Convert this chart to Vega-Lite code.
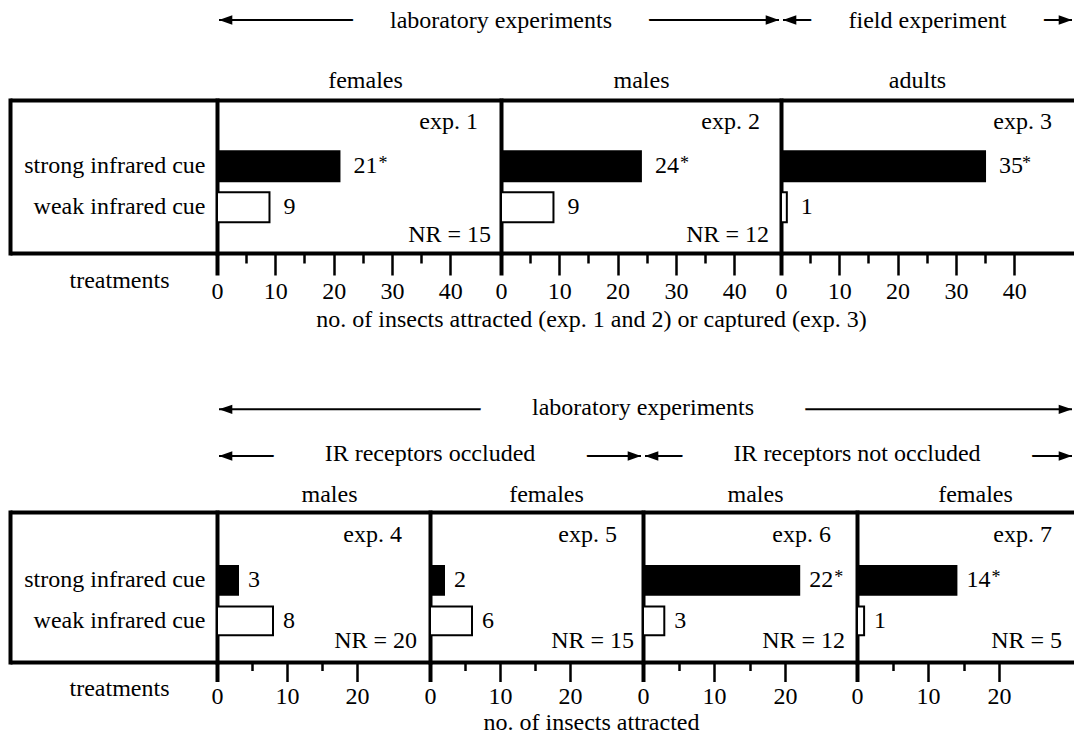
{
  "$schema": "https://vega.github.io/schema/vega-lite/v6.json",
  "padding": {"left": 10, "top": 0, "right": 0, "bottom": 0},
  "background": "white",
  "config": {
    "font": "Liberation Serif",
    "view": {"stroke": null},
    "axis": {"labelFont": "Liberation Serif", "labelFontSize": 24, "labelColor": "black", "titleFont": "Liberation Serif", "titleFontSize": 24, "titleFontWeight": "normal", "titleColor": "black", "domainColor": "black", "tickColor": "black", "grid": false, "labelFlush": false, "labelOverlap": false, "zindex": 1, "titleLimit": 1000, "labelLimit": 400}
  },
  "datasets": {
    "counts": [
      {"exp": "exp. 1", "treatment": "strong infrared cue", "n": 21, "sig": "*"},
      {"exp": "exp. 1", "treatment": "weak infrared cue", "n": 9, "sig": ""},
      {"exp": "exp. 2", "treatment": "strong infrared cue", "n": 24, "sig": "*"},
      {"exp": "exp. 2", "treatment": "weak infrared cue", "n": 9, "sig": ""},
      {"exp": "exp. 3", "treatment": "strong infrared cue", "n": 35, "sig": "*"},
      {"exp": "exp. 3", "treatment": "weak infrared cue", "n": 1, "sig": ""},
      {"exp": "exp. 4", "treatment": "strong infrared cue", "n": 3, "sig": ""},
      {"exp": "exp. 4", "treatment": "weak infrared cue", "n": 8, "sig": ""},
      {"exp": "exp. 5", "treatment": "strong infrared cue", "n": 2, "sig": ""},
      {"exp": "exp. 5", "treatment": "weak infrared cue", "n": 6, "sig": ""},
      {"exp": "exp. 6", "treatment": "strong infrared cue", "n": 22, "sig": "*"},
      {"exp": "exp. 6", "treatment": "weak infrared cue", "n": 3, "sig": ""},
      {"exp": "exp. 7", "treatment": "strong infrared cue", "n": 14, "sig": "*"},
      {"exp": "exp. 7", "treatment": "weak infrared cue", "n": 1, "sig": ""}
    ],
    "panels": [
      {"exp": "exp. 1", "group": "females", "nr": "NR = 15"},
      {"exp": "exp. 2", "group": "males", "nr": "NR = 12"},
      {"exp": "exp. 3", "group": "adults", "nr": ""},
      {"exp": "exp. 4", "group": "males", "nr": "NR = 20"},
      {"exp": "exp. 5", "group": "females", "nr": "NR = 15"},
      {"exp": "exp. 6", "group": "males", "nr": "NR = 12"},
      {"exp": "exp. 7", "group": "females", "nr": "NR = 5"}
    ],
    "spansTop": [
      {"label": "laboratory experiments", "from": 0, "to": 2, "mid": 1},
      {"label": "field experiment", "from": 2, "to": 3, "mid": 2.5}
    ],
    "spansB1": [
      {"label": "laboratory experiments", "from": 0, "to": 4, "mid": 2}
    ],
    "spansB2": [
      {"label": "IR receptors occluded", "from": 0, "to": 2, "mid": 1},
      {"label": "IR receptors not occluded", "from": 2, "to": 4, "mid": 3}
    ]
  },
  "spacing": 0,
  "bounds": "flush",
  "vconcat": [
    {
      "width": 1064, "height": 100,
      "data": {"name": "spansTop"},
      "encoding": {"y": {"field": "label", "type": "nominal", "scale": {"type": "point", "range": [20, 20]}, "axis": null}},
      "layer": [
        {"mark": {"type": "rule", "strokeWidth": 2, "color": "black", "xOffset": 2, "x2Offset": -2},
         "encoding": {"x": {"field": "from", "type": "quantitative", "scale": {"domain": [0, 1, 2, 3], "range": [207, 491, 771, 1064], "nice": false, "zero": false}, "axis": null}, "x2": {"field": "to"}}},
        {"mark": {"type": "text", "fontSize": 24, "baseline": "middle", "dy": 1, "fill": "white", "stroke": "white", "strokeWidth": 76, "strokeJoin": "round", "clip": true},
         "encoding": {"x": {"field": "mid", "type": "quantitative", "scale": {"domain": [0, 1, 2, 3], "range": [207, 491, 771, 1064], "nice": false, "zero": false}, "axis": null}, "text": {"field": "label"}}},
        {"mark": {"type": "point", "shape": "M0.3,0L2.3,-0.7L2.3,0.7Z", "size": 177, "filled": true, "color": "black", "opacity": 1},
         "encoding": {"x": {"field": "from", "type": "quantitative", "scale": {"domain": [0, 1, 2, 3], "range": [207, 491, 771, 1064], "nice": false, "zero": false}, "axis": null}}},
        {"mark": {"type": "point", "shape": "M-0.3,0L-2.3,-0.7L-2.3,0.7Z", "size": 177, "filled": true, "color": "black", "opacity": 1},
         "encoding": {"x": {"field": "to", "type": "quantitative", "scale": {"domain": [0, 1, 2, 3], "range": [207, 491, 771, 1064], "nice": false, "zero": false}, "axis": null}}},
        {"mark": {"type": "text", "fontSize": 24, "baseline": "middle", "dy": 1, "fill": "black"},
         "encoding": {"x": {"field": "mid", "type": "quantitative", "scale": {"domain": [0, 1, 2, 3], "range": [207, 491, 771, 1064], "nice": false, "zero": false}, "axis": null}, "text": {"field": "label"}}}
      ]
    },
    {
      "width": 1064, "height": 153,
      "layer": [
        {
          "data": {"name": "counts"}, "transform": [{"filter": "datum.exp === 'exp. 1'"}],
          "layer": [
            {"mark": {"type": "point", "opacity": 0},
             "encoding": {
               "y": {"field": "treatment", "type": "nominal", "scale": {"type": "band", "domain": ["strong infrared cue", "weak infrared cue"], "paddingInner": 0.27, "paddingOuter": 1.02, "align": 0.624}, "axis": {"orient": "left", "offset": 0, "domain": true, "domainWidth": 4, "domainCap": "square", "ticks": false, "labels": false, "title": null}},
               "x": {"field": "n", "type": "quantitative", "scale": {"domain": [0, 50], "range": [0, 207], "nice": false}, "axis": {"orient": "top", "domain": true, "domainWidth": 4, "ticks": false, "labels": false, "title": null}}
             }},
            {"mark": {"type": "point", "opacity": 0},
             "encoding": {
               "y": {"field": "treatment", "type": "nominal", "scale": {"type": "band", "domain": ["strong infrared cue", "weak infrared cue"], "paddingInner": 0.27, "paddingOuter": 1.02, "align": 0.624}, "axis": {"orient": "left", "offset": -207, "domain": true, "domainWidth": 4, "domainCap": "square", "ticks": false, "labelPadding": 12, "labelBaseline": "middle", "labelLimit": 400, "title": null}},
               "x": {"field": "n", "type": "quantitative", "scale": {"domain": [0, 50], "range": [0, 207], "nice": false}, "axis": {"orient": "bottom", "domain": true, "domainWidth": 4, "ticks": false, "labels": false, "title": "treatments", "titleX": 109, "titleY": 34, "titleAlign": "center", "titleBaseline": "alphabetic"}}
             }}
          ],
          "resolve": {"axis": {"x": "independent", "y": "independent"}}
        },
        {
          "data": {"name": "counts"}, "transform": [{"filter": "datum.exp === 'exp. 1'"}],
          "layer": [
            {"mark": {"type": "bar", "stroke": "black", "strokeWidth": 2},
             "encoding": {
               "y": {"field": "treatment", "type": "nominal", "scale": {"type": "band", "domain": ["strong infrared cue", "weak infrared cue"], "paddingInner": 0.27, "paddingOuter": 1.02, "align": 0.624}, "axis": null},
               "x": {"field": "n", "type": "quantitative", "scale": {"domain": [0, 48.7], "range": [207, 491], "nice": false}, "axis": {"orient": "bottom", "values": [0, 5, 10, 15, 20, 25, 30, 35, 40], "labelExpr": "datum.value % 10 === 0 ? datum.label : ''", "tickSize": {"condition": {"test": "datum.value % 10 === 0", "value": 22}, "value": 10}, "tickWidth": {"condition": {"test": "datum.value === 0", "value": 4}, "value": 2.5}, "labelPadding": 23, "labelBaseline": "alphabetic", "domainWidth": 4, "title": null}},
               "fill": {"field": "treatment", "type": "nominal", "scale": {"domain": ["strong infrared cue", "weak infrared cue"], "range": ["black", "white"]}, "legend": null}
             }},
            {"mark": {"type": "text", "align": "left", "baseline": "middle", "dx": 14, "fontSize": 24, "fill": "black"},
             "encoding": {
               "y": {"field": "treatment", "type": "nominal", "axis": null},
               "x": {"field": "n", "type": "quantitative", "scale": {"domain": [0, 48.7], "range": [207, 491], "nice": false}, "axis": {"orient": "top", "domain": true, "domainWidth": 4, "ticks": false, "labels": false, "title": "females", "titleX": 355, "titleY": -12.5, "titleAlign": "center", "titleBaseline": "alphabetic"}},
               "text": {"field": "n", "type": "quantitative", "format": "d"}
             }},
            {"transform": [{"filter": "datum.sig !== ''"}],
             "mark": {"type": "text", "align": "left", "baseline": "middle", "dx": 39, "dy": -2, "fontSize": 18, "fill": "black"},
             "encoding": {
               "y": {"field": "treatment", "type": "nominal", "axis": null},
               "x": {"field": "n", "type": "quantitative", "axis": null},
               "text": {"field": "sig"}
             }},
            {"data": {"name": "panels"}, "transform": [{"filter": "datum.exp === 'exp. 1'"}],
             "mark": {"type": "text", "align": "right", "baseline": "alphabetic", "dx": -23, "dy": -37.5, "fontSize": 24, "fill": "black"},
             "encoding": {"x": {"datum": 48.7, "type": "quantitative", "axis": null}, "y": {"datum": "strong infrared cue", "type": "nominal", "axis": null}, "text": {"field": "exp"}}},
            {"data": {"name": "panels"}, "transform": [{"filter": "datum.exp === 'exp. 1'"}],
             "mark": {"type": "text", "align": "right", "baseline": "alphabetic", "dx": -10, "dy": 34.4, "fontSize": 24, "fill": "black"},
             "encoding": {"x": {"datum": 48.7, "type": "quantitative", "axis": null}, "y": {"datum": "weak infrared cue", "type": "nominal", "axis": null}, "text": {"field": "nr"}}}
          ],
          "resolve": {"axis": {"x": "independent", "y": "independent"}}
        },
        {
          "data": {"name": "counts"}, "transform": [{"filter": "datum.exp === 'exp. 2'"}],
          "layer": [
            {"mark": {"type": "bar", "stroke": "black", "strokeWidth": 2},
             "encoding": {
               "y": {"field": "treatment", "type": "nominal", "scale": {"type": "band", "domain": ["strong infrared cue", "weak infrared cue"], "paddingInner": 0.27, "paddingOuter": 1.02, "align": 0.624}, "axis": {"orient": "left", "offset": -491, "domain": true, "domainWidth": 4, "domainCap": "square", "ticks": false, "labels": false, "title": null}},
               "x": {"field": "n", "type": "quantitative", "scale": {"domain": [0, 48.03], "range": [491, 771], "nice": false}, "axis": {"orient": "bottom", "values": [0, 5, 10, 15, 20, 25, 30, 35, 40], "labelExpr": "datum.value % 10 === 0 ? datum.label : ''", "tickSize": {"condition": {"test": "datum.value % 10 === 0", "value": 22}, "value": 10}, "tickWidth": {"condition": {"test": "datum.value === 0", "value": 4}, "value": 2.5}, "labelPadding": 23, "labelBaseline": "alphabetic", "domainWidth": 4, "title": "no. of insects attracted (exp. 1 and 2) or captured (exp. 3)", "titleX": 581, "titleY": 73, "titleAlign": "center", "titleBaseline": "alphabetic"}},
               "fill": {"field": "treatment", "type": "nominal", "scale": {"domain": ["strong infrared cue", "weak infrared cue"], "range": ["black", "white"]}, "legend": null}
             }},
            {"mark": {"type": "text", "align": "left", "baseline": "middle", "dx": 14, "fontSize": 24, "fill": "black"},
             "encoding": {
               "y": {"field": "treatment", "type": "nominal", "axis": null},
               "x": {"field": "n", "type": "quantitative", "scale": {"domain": [0, 48.03], "range": [491, 771], "nice": false}, "axis": {"orient": "top", "domain": true, "domainWidth": 4, "ticks": false, "labels": false, "title": "males", "titleX": 631, "titleY": -12.5, "titleAlign": "center", "titleBaseline": "alphabetic"}},
               "text": {"field": "n", "type": "quantitative", "format": "d"}
             }},
            {"transform": [{"filter": "datum.sig !== ''"}],
             "mark": {"type": "text", "align": "left", "baseline": "middle", "dx": 39, "dy": -2, "fontSize": 18, "fill": "black"},
             "encoding": {
               "y": {"field": "treatment", "type": "nominal", "axis": null},
               "x": {"field": "n", "type": "quantitative", "axis": null},
               "text": {"field": "sig"}
             }},
            {"data": {"name": "panels"}, "transform": [{"filter": "datum.exp === 'exp. 2'"}],
             "mark": {"type": "text", "align": "right", "baseline": "alphabetic", "dx": -21, "dy": -37.5, "fontSize": 24, "fill": "black"},
             "encoding": {"x": {"datum": 48.03, "type": "quantitative", "axis": null}, "y": {"datum": "strong infrared cue", "type": "nominal", "axis": null}, "text": {"field": "exp"}}},
            {"data": {"name": "panels"}, "transform": [{"filter": "datum.exp === 'exp. 2'"}],
             "mark": {"type": "text", "align": "right", "baseline": "alphabetic", "dx": -12, "dy": 34.4, "fontSize": 24, "fill": "black"},
             "encoding": {"x": {"datum": 48.03, "type": "quantitative", "axis": null}, "y": {"datum": "weak infrared cue", "type": "nominal", "axis": null}, "text": {"field": "nr"}}}
          ],
          "resolve": {"axis": {"x": "independent", "y": "independent"}}
        },
        {
          "data": {"name": "counts"}, "transform": [{"filter": "datum.exp === 'exp. 3'"}],
          "layer": [
            {"mark": {"type": "bar", "stroke": "black", "strokeWidth": 2},
             "encoding": {
               "y": {"field": "treatment", "type": "nominal", "scale": {"type": "band", "domain": ["strong infrared cue", "weak infrared cue"], "paddingInner": 0.27, "paddingOuter": 1.02, "align": 0.624}, "axis": {"orient": "left", "offset": -771, "domain": true, "domainWidth": 4, "domainCap": "square", "ticks": false, "labels": false, "title": null}},
               "x": {"field": "n", "type": "quantitative", "scale": {"domain": [0, 50.26], "range": [771, 1064], "nice": false}, "axis": {"orient": "bottom", "values": [0, 5, 10, 15, 20, 25, 30, 35, 40], "labelExpr": "datum.value % 10 === 0 ? datum.label : ''", "tickSize": {"condition": {"test": "datum.value % 10 === 0", "value": 22}, "value": 10}, "tickWidth": {"condition": {"test": "datum.value === 0", "value": 4}, "value": 2.5}, "labelPadding": 23, "labelBaseline": "alphabetic", "domainWidth": 4, "title": null}},
               "fill": {"field": "treatment", "type": "nominal", "scale": {"domain": ["strong infrared cue", "weak infrared cue"], "range": ["black", "white"]}, "legend": null}
             }},
            {"mark": {"type": "text", "align": "left", "baseline": "middle", "dx": 14, "fontSize": 24, "fill": "black"},
             "encoding": {
               "y": {"field": "treatment", "type": "nominal", "axis": null},
               "x": {"field": "n", "type": "quantitative", "scale": {"domain": [0, 50.26], "range": [771, 1064], "nice": false}, "axis": {"orient": "top", "domain": true, "domainWidth": 4, "ticks": false, "labels": false, "title": "adults", "titleX": 907, "titleY": -12.5, "titleAlign": "center", "titleBaseline": "alphabetic"}},
               "text": {"field": "n", "type": "quantitative", "format": "d"}
             }},
            {"transform": [{"filter": "datum.sig !== ''"}],
             "mark": {"type": "text", "align": "left", "baseline": "middle", "dx": 37, "dy": -2, "fontSize": 18, "fill": "black"},
             "encoding": {
               "y": {"field": "treatment", "type": "nominal", "axis": null},
               "x": {"field": "n", "type": "quantitative", "axis": null},
               "text": {"field": "sig"}
             }},
            {"data": {"name": "panels"}, "transform": [{"filter": "datum.exp === 'exp. 3'"}],
             "mark": {"type": "text", "align": "right", "baseline": "alphabetic", "dx": -22, "dy": -37.5, "fontSize": 24, "fill": "black"},
             "encoding": {"x": {"datum": 50.26, "type": "quantitative", "axis": null}, "y": {"datum": "strong infrared cue", "type": "nominal", "axis": null}, "text": {"field": "exp"}}}
          ],
          "resolve": {"axis": {"x": "independent", "y": "independent"}}
        }
      ],
      "resolve": {"scale": {"x": "independent"}, "axis": {"x": "independent", "y": "independent"}}
    },
    {
      "width": 1064, "height": 180,
      "data": {"name": "spansB1"},
      "encoding": {"y": {"field": "label", "type": "nominal", "scale": {"type": "point", "range": [156.3, 156.3]}, "axis": null}},
      "layer": [
        {"mark": {"type": "rule", "strokeWidth": 2, "color": "black", "xOffset": 2, "x2Offset": -2},
         "encoding": {"x": {"field": "from", "type": "quantitative", "scale": {"domain": [0, 1, 2, 3, 4], "range": [207, 420, 633, 847, 1064], "nice": false, "zero": false}, "axis": null}, "x2": {"field": "to"}}},
        {"mark": {"type": "text", "fontSize": 24, "baseline": "middle", "dy": -1.5, "fill": "white", "stroke": "white", "strokeWidth": 104, "strokeJoin": "round", "clip": true},
         "encoding": {"x": {"field": "mid", "type": "quantitative", "scale": {"domain": [0, 1, 2, 3, 4], "range": [207, 420, 633, 847, 1064], "nice": false, "zero": false}, "axis": null}, "text": {"field": "label"}}},
        {"mark": {"type": "point", "shape": "M0.3,0L2.3,-0.7L2.3,0.7Z", "size": 177, "filled": true, "color": "black", "opacity": 1},
         "encoding": {"x": {"field": "from", "type": "quantitative", "scale": {"domain": [0, 1, 2, 3, 4], "range": [207, 420, 633, 847, 1064], "nice": false, "zero": false}, "axis": null}}},
        {"mark": {"type": "point", "shape": "M-0.3,0L-2.3,-0.7L-2.3,0.7Z", "size": 177, "filled": true, "color": "black", "opacity": 1},
         "encoding": {"x": {"field": "to", "type": "quantitative", "scale": {"domain": [0, 1, 2, 3, 4], "range": [207, 420, 633, 847, 1064], "nice": false, "zero": false}, "axis": null}}},
        {"mark": {"type": "text", "fontSize": 24, "baseline": "middle", "dy": -1.5, "fill": "black"},
         "encoding": {"x": {"field": "mid", "type": "quantitative", "scale": {"domain": [0, 1, 2, 3, 4], "range": [207, 420, 633, 847, 1064], "nice": false, "zero": false}, "axis": null}, "text": {"field": "label"}}}
      ]
    },
    {
      "width": 1064, "height": 79,
      "data": {"name": "spansB2"},
      "encoding": {"y": {"field": "label", "type": "nominal", "scale": {"type": "point", "range": [23, 23]}, "axis": null}},
      "layer": [
        {"mark": {"type": "rule", "strokeWidth": 2, "color": "black", "xOffset": 2, "x2Offset": -2},
         "encoding": {"x": {"field": "from", "type": "quantitative", "scale": {"domain": [0, 1, 2, 3, 4], "range": [207, 420, 633, 847, 1064], "nice": false, "zero": false}, "axis": null}, "x2": {"field": "to"}}},
        {"mark": {"type": "text", "fontSize": 24, "baseline": "middle", "dy": -2.5, "fill": "white", "stroke": "white", "strokeWidth": 104, "strokeJoin": "round", "clip": true},
         "encoding": {"x": {"field": "mid", "type": "quantitative", "scale": {"domain": [0, 1, 2, 3, 4], "range": [207, 420, 633, 847, 1064], "nice": false, "zero": false}, "axis": null}, "text": {"field": "label"}}},
        {"mark": {"type": "point", "shape": "M0.3,0L2.3,-0.7L2.3,0.7Z", "size": 177, "filled": true, "color": "black", "opacity": 1},
         "encoding": {"x": {"field": "from", "type": "quantitative", "scale": {"domain": [0, 1, 2, 3, 4], "range": [207, 420, 633, 847, 1064], "nice": false, "zero": false}, "axis": null}}},
        {"mark": {"type": "point", "shape": "M-0.3,0L-2.3,-0.7L-2.3,0.7Z", "size": 177, "filled": true, "color": "black", "opacity": 1},
         "encoding": {"x": {"field": "to", "type": "quantitative", "scale": {"domain": [0, 1, 2, 3, 4], "range": [207, 420, 633, 847, 1064], "nice": false, "zero": false}, "axis": null}}},
        {"mark": {"type": "text", "fontSize": 24, "baseline": "middle", "dy": -2.5, "fill": "black"},
         "encoding": {"x": {"field": "mid", "type": "quantitative", "scale": {"domain": [0, 1, 2, 3, 4], "range": [207, 420, 633, 847, 1064], "nice": false, "zero": false}, "axis": null}, "text": {"field": "label"}}}
      ]
    },
    {
      "width": 1064, "height": 150,
      "layer": [
        {
          "data": {"name": "counts"}, "transform": [{"filter": "datum.exp === 'exp. 4'"}],
          "layer": [
            {"mark": {"type": "point", "opacity": 0},
             "encoding": {
               "y": {"field": "treatment", "type": "nominal", "scale": {"type": "band", "domain": ["strong infrared cue", "weak infrared cue"], "paddingInner": 0.292, "paddingOuter": 1.069, "align": 0.668}, "axis": {"orient": "left", "offset": 0, "domain": true, "domainWidth": 4, "domainCap": "square", "ticks": false, "labels": false, "title": null}},
               "x": {"field": "n", "type": "quantitative", "scale": {"domain": [0, 50], "range": [0, 207], "nice": false}, "axis": {"orient": "top", "domain": true, "domainWidth": 4, "ticks": false, "labels": false, "title": null}}
             }},
            {"mark": {"type": "point", "opacity": 0},
             "encoding": {
               "y": {"field": "treatment", "type": "nominal", "scale": {"type": "band", "domain": ["strong infrared cue", "weak infrared cue"], "paddingInner": 0.292, "paddingOuter": 1.069, "align": 0.668}, "axis": {"orient": "left", "offset": -207, "domain": true, "domainWidth": 4, "domainCap": "square", "ticks": false, "labelPadding": 12, "labelBaseline": "middle", "labelLimit": 400, "title": null}},
               "x": {"field": "n", "type": "quantitative", "scale": {"domain": [0, 50], "range": [0, 207], "nice": false}, "axis": {"orient": "bottom", "domain": true, "domainWidth": 4, "ticks": false, "labels": false, "title": "treatments", "titleX": 109, "titleY": 33, "titleAlign": "center", "titleBaseline": "alphabetic"}}
             }}
          ],
          "resolve": {"axis": {"x": "independent", "y": "independent"}}
        },
        {
          "data": {"name": "counts"}, "transform": [{"filter": "datum.exp === 'exp. 4'"}],
          "layer": [
            {"mark": {"type": "bar", "stroke": "black", "strokeWidth": 2},
             "encoding": {
               "y": {"field": "treatment", "type": "nominal", "scale": {"type": "band", "domain": ["strong infrared cue", "weak infrared cue"], "paddingInner": 0.292, "paddingOuter": 1.069, "align": 0.668}, "axis": null},
               "x": {"field": "n", "type": "quantitative", "scale": {"domain": [0, 30.43], "range": [207, 420], "nice": false}, "axis": {"orient": "bottom", "values": [0, 5, 10, 15, 20], "labelExpr": "datum.value % 10 === 0 ? datum.label : ''", "tickSize": {"condition": {"test": "datum.value % 10 === 0", "value": 19.5}, "value": 8.5}, "tickWidth": {"condition": {"test": "datum.value === 0", "value": 4}, "value": 2.5}, "labelPadding": 22, "labelBaseline": "alphabetic", "domainWidth": 4, "title": null}},
               "fill": {"field": "treatment", "type": "nominal", "scale": {"domain": ["strong infrared cue", "weak infrared cue"], "range": ["black", "white"]}, "legend": null}
             }},
            {"mark": {"type": "text", "align": "left", "baseline": "middle", "dx": 10, "fontSize": 24, "fill": "black"},
             "encoding": {
               "y": {"field": "treatment", "type": "nominal", "axis": null},
               "x": {"field": "n", "type": "quantitative", "scale": {"domain": [0, 30.43], "range": [207, 420], "nice": false}, "axis": {"orient": "top", "domain": true, "domainWidth": 4, "ticks": false, "labels": false, "title": "males", "titleX": 319, "titleY": -10.5, "titleAlign": "center", "titleBaseline": "alphabetic"}},
               "text": {"field": "n", "type": "quantitative", "format": "d"}
             }},
            {"data": {"name": "panels"}, "transform": [{"filter": "datum.exp === 'exp. 4'"}],
             "mark": {"type": "text", "align": "right", "baseline": "alphabetic", "dx": -28, "dy": -38.7, "fontSize": 24, "fill": "black"},
             "encoding": {"x": {"datum": 30.43, "type": "quantitative", "axis": null}, "y": {"datum": "strong infrared cue", "type": "nominal", "axis": null}, "text": {"field": "exp"}}},
            {"data": {"name": "panels"}, "transform": [{"filter": "datum.exp === 'exp. 4'"}],
             "mark": {"type": "text", "align": "right", "baseline": "alphabetic", "dx": -13, "dy": 26.7, "fontSize": 24, "fill": "black"},
             "encoding": {"x": {"datum": 30.43, "type": "quantitative", "axis": null}, "y": {"datum": "weak infrared cue", "type": "nominal", "axis": null}, "text": {"field": "nr"}}}
          ],
          "resolve": {"axis": {"x": "independent", "y": "independent"}}
        },
        {
          "data": {"name": "counts"}, "transform": [{"filter": "datum.exp === 'exp. 5'"}],
          "layer": [
            {"mark": {"type": "bar", "stroke": "black", "strokeWidth": 2},
             "encoding": {
               "y": {"field": "treatment", "type": "nominal", "scale": {"type": "band", "domain": ["strong infrared cue", "weak infrared cue"], "paddingInner": 0.292, "paddingOuter": 1.069, "align": 0.668}, "axis": {"orient": "left", "offset": -420, "domain": true, "domainWidth": 4, "domainCap": "square", "ticks": false, "labels": false, "title": null}},
               "x": {"field": "n", "type": "quantitative", "scale": {"domain": [0, 30.43], "range": [420, 633], "nice": false}, "axis": {"orient": "bottom", "values": [0, 5, 10, 15, 20], "labelExpr": "datum.value % 10 === 0 ? datum.label : ''", "tickSize": {"condition": {"test": "datum.value % 10 === 0", "value": 19.5}, "value": 8.5}, "tickWidth": {"condition": {"test": "datum.value === 0", "value": 4}, "value": 2.5}, "labelPadding": 22, "labelBaseline": "alphabetic", "domainWidth": 4, "title": "no. of insects attracted", "titleX": 581, "titleY": 67, "titleAlign": "center", "titleBaseline": "alphabetic"}},
               "fill": {"field": "treatment", "type": "nominal", "scale": {"domain": ["strong infrared cue", "weak infrared cue"], "range": ["black", "white"]}, "legend": null}
             }},
            {"mark": {"type": "text", "align": "left", "baseline": "middle", "dx": 10, "fontSize": 24, "fill": "black"},
             "encoding": {
               "y": {"field": "treatment", "type": "nominal", "axis": null},
               "x": {"field": "n", "type": "quantitative", "scale": {"domain": [0, 30.43], "range": [420, 633], "nice": false}, "axis": {"orient": "top", "domain": true, "domainWidth": 4, "ticks": false, "labels": false, "title": "females", "titleX": 536, "titleY": -10.5, "titleAlign": "center", "titleBaseline": "alphabetic"}},
               "text": {"field": "n", "type": "quantitative", "format": "d"}
             }},
            {"data": {"name": "panels"}, "transform": [{"filter": "datum.exp === 'exp. 5'"}],
             "mark": {"type": "text", "align": "right", "baseline": "alphabetic", "dx": -26, "dy": -38.7, "fontSize": 24, "fill": "black"},
             "encoding": {"x": {"datum": 30.43, "type": "quantitative", "axis": null}, "y": {"datum": "strong infrared cue", "type": "nominal", "axis": null}, "text": {"field": "exp"}}},
            {"data": {"name": "panels"}, "transform": [{"filter": "datum.exp === 'exp. 5'"}],
             "mark": {"type": "text", "align": "right", "baseline": "alphabetic", "dx": -9, "dy": 26.7, "fontSize": 24, "fill": "black"},
             "encoding": {"x": {"datum": 30.43, "type": "quantitative", "axis": null}, "y": {"datum": "weak infrared cue", "type": "nominal", "axis": null}, "text": {"field": "nr"}}}
          ],
          "resolve": {"axis": {"x": "independent", "y": "independent"}}
        },
        {
          "data": {"name": "counts"}, "transform": [{"filter": "datum.exp === 'exp. 6'"}],
          "layer": [
            {"mark": {"type": "bar", "stroke": "black", "strokeWidth": 2},
             "encoding": {
               "y": {"field": "treatment", "type": "nominal", "scale": {"type": "band", "domain": ["strong infrared cue", "weak infrared cue"], "paddingInner": 0.292, "paddingOuter": 1.069, "align": 0.668}, "axis": {"orient": "left", "offset": -633, "domain": true, "domainWidth": 4, "domainCap": "square", "ticks": false, "labels": false, "title": null}},
               "x": {"field": "n", "type": "quantitative", "scale": {"domain": [0, 30.14], "range": [633, 847], "nice": false}, "axis": {"orient": "bottom", "values": [0, 5, 10, 15, 20], "labelExpr": "datum.value % 10 === 0 ? datum.label : ''", "tickSize": {"condition": {"test": "datum.value % 10 === 0", "value": 19.5}, "value": 8.5}, "tickWidth": {"condition": {"test": "datum.value === 0", "value": 4}, "value": 2.5}, "labelPadding": 22, "labelBaseline": "alphabetic", "domainWidth": 4, "title": null}},
               "fill": {"field": "treatment", "type": "nominal", "scale": {"domain": ["strong infrared cue", "weak infrared cue"], "range": ["black", "white"]}, "legend": null}
             }},
            {"mark": {"type": "text", "align": "left", "baseline": "middle", "dx": 10, "fontSize": 24, "fill": "black"},
             "encoding": {
               "y": {"field": "treatment", "type": "nominal", "axis": null},
               "x": {"field": "n", "type": "quantitative", "scale": {"domain": [0, 30.14], "range": [633, 847], "nice": false}, "axis": {"orient": "top", "domain": true, "domainWidth": 4, "ticks": false, "labels": false, "title": "males", "titleX": 745, "titleY": -10.5, "titleAlign": "center", "titleBaseline": "alphabetic"}},
               "text": {"field": "n", "type": "quantitative", "format": "d"}
             }},
            {"transform": [{"filter": "datum.sig !== ''"}],
             "mark": {"type": "text", "align": "left", "baseline": "middle", "dx": 35, "dy": -2, "fontSize": 18, "fill": "black"},
             "encoding": {
               "y": {"field": "treatment", "type": "nominal", "axis": null},
               "x": {"field": "n", "type": "quantitative", "axis": null},
               "text": {"field": "sig"}
             }},
            {"data": {"name": "panels"}, "transform": [{"filter": "datum.exp === 'exp. 6'"}],
             "mark": {"type": "text", "align": "right", "baseline": "alphabetic", "dx": -26, "dy": -38.7, "fontSize": 24, "fill": "black"},
             "encoding": {"x": {"datum": 30.14, "type": "quantitative", "axis": null}, "y": {"datum": "strong infrared cue", "type": "nominal", "axis": null}, "text": {"field": "exp"}}},
            {"data": {"name": "panels"}, "transform": [{"filter": "datum.exp === 'exp. 6'"}],
             "mark": {"type": "text", "align": "right", "baseline": "alphabetic", "dx": -12, "dy": 26.7, "fontSize": 24, "fill": "black"},
             "encoding": {"x": {"datum": 30.14, "type": "quantitative", "axis": null}, "y": {"datum": "weak infrared cue", "type": "nominal", "axis": null}, "text": {"field": "nr"}}}
          ],
          "resolve": {"axis": {"x": "independent", "y": "independent"}}
        },
        {
          "data": {"name": "counts"}, "transform": [{"filter": "datum.exp === 'exp. 7'"}],
          "layer": [
            {"mark": {"type": "bar", "stroke": "black", "strokeWidth": 2},
             "encoding": {
               "y": {"field": "treatment", "type": "nominal", "scale": {"type": "band", "domain": ["strong infrared cue", "weak infrared cue"], "paddingInner": 0.292, "paddingOuter": 1.069, "align": 0.668}, "axis": {"orient": "left", "offset": -847, "domain": true, "domainWidth": 4, "domainCap": "square", "ticks": false, "labels": false, "title": null}},
               "x": {"field": "n", "type": "quantitative", "scale": {"domain": [0, 30.56], "range": [847, 1064], "nice": false}, "axis": {"orient": "bottom", "values": [0, 5, 10, 15, 20], "labelExpr": "datum.value % 10 === 0 ? datum.label : ''", "tickSize": {"condition": {"test": "datum.value % 10 === 0", "value": 19.5}, "value": 8.5}, "tickWidth": {"condition": {"test": "datum.value === 0", "value": 4}, "value": 2.5}, "labelPadding": 22, "labelBaseline": "alphabetic", "domainWidth": 4, "title": null}},
               "fill": {"field": "treatment", "type": "nominal", "scale": {"domain": ["strong infrared cue", "weak infrared cue"], "range": ["black", "white"]}, "legend": null}
             }},
            {"mark": {"type": "text", "align": "left", "baseline": "middle", "dx": 10, "fontSize": 24, "fill": "black"},
             "encoding": {
               "y": {"field": "treatment", "type": "nominal", "axis": null},
               "x": {"field": "n", "type": "quantitative", "scale": {"domain": [0, 30.56], "range": [847, 1064], "nice": false}, "axis": {"orient": "top", "domain": true, "domainWidth": 4, "ticks": false, "labels": false, "title": "females", "titleX": 965, "titleY": -10.5, "titleAlign": "center", "titleBaseline": "alphabetic"}},
               "text": {"field": "n", "type": "quantitative", "format": "d"}
             }},
            {"transform": [{"filter": "datum.sig !== ''"}],
             "mark": {"type": "text", "align": "left", "baseline": "middle", "dx": 35, "dy": -2, "fontSize": 18, "fill": "black"},
             "encoding": {
               "y": {"field": "treatment", "type": "nominal", "axis": null},
               "x": {"field": "n", "type": "quantitative", "axis": null},
               "text": {"field": "sig"}
             }},
            {"data": {"name": "panels"}, "transform": [{"filter": "datum.exp === 'exp. 7'"}],
             "mark": {"type": "text", "align": "right", "baseline": "alphabetic", "dx": -22, "dy": -38.7, "fontSize": 24, "fill": "black"},
             "encoding": {"x": {"datum": 30.56, "type": "quantitative", "axis": null}, "y": {"datum": "strong infrared cue", "type": "nominal", "axis": null}, "text": {"field": "exp"}}},
            {"data": {"name": "panels"}, "transform": [{"filter": "datum.exp === 'exp. 7'"}],
             "mark": {"type": "text", "align": "right", "baseline": "alphabetic", "dx": -12, "dy": 26.7, "fontSize": 24, "fill": "black"},
             "encoding": {"x": {"datum": 30.56, "type": "quantitative", "axis": null}, "y": {"datum": "weak infrared cue", "type": "nominal", "axis": null}, "text": {"field": "nr"}}}
          ],
          "resolve": {"axis": {"x": "independent", "y": "independent"}}
        }
      ],
      "resolve": {"scale": {"x": "independent"}, "axis": {"x": "independent", "y": "independent"}}
    }
  ]
}
